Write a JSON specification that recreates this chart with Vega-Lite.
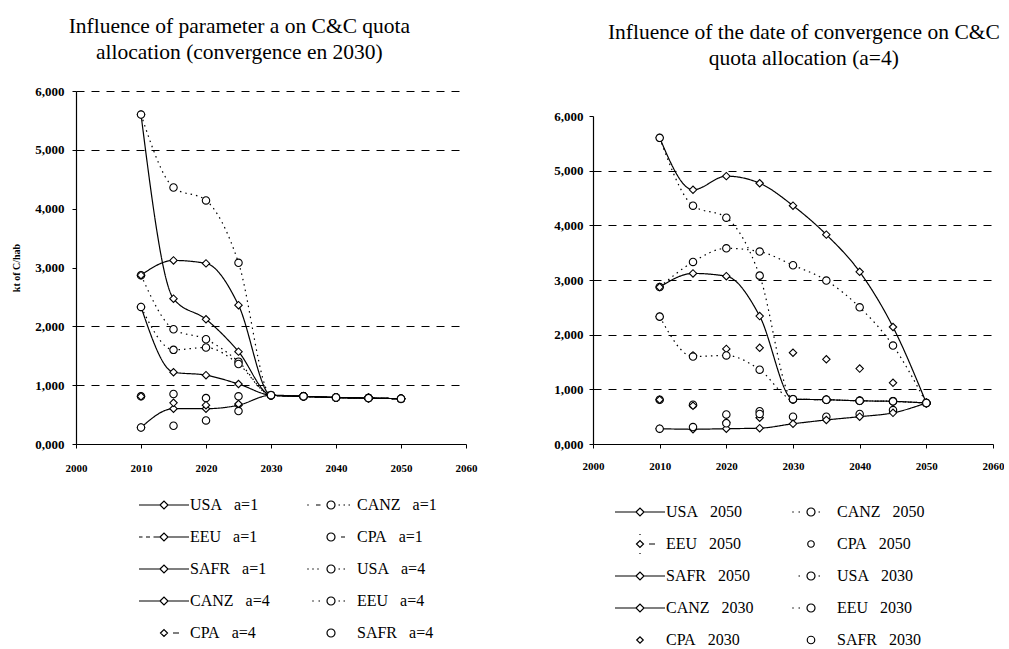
{
  "$schema": "https://vega.github.io/schema/vega-lite/v6.json",
  "background": "white",
  "padding": {"left": 11, "top": 15, "right": 0, "bottom": 0},
  "spacing": 76,
  "config": {
    "font": "Liberation Serif",
    "view": {"stroke": null},
    "axis": {
      "domainColor": "black", "domainWidth": 1.2, "tickColor": "black", "tickSize": 4, "tickWidth": 1,
      "labelColor": "black", "labelFont": "Liberation Serif", "labelFontWeight": "bold",
      "titleColor": "black", "titleFont": "Liberation Serif", "labelFlush": false, "labelOverlap": false,
      "gridColor": "black", "gridDash": [8, 7], "gridWidth": 1
    },
    "title": {"font": "Liberation Serif", "fontSize": 21.5, "fontWeight": "normal", "color": "black", "lineHeight": 26, "anchor": "middle", "frame": "bounds"},
    "legend": {
      "padding": 0, "labelFont": "Liberation Serif", "labelFontSize": 16, "labelColor": "black",
      "labelOffset": 0, "clipHeight": 20, "rowPadding": 12, "symbolSize": 2500, "direction": "horizontal",
      "symbolStrokeColor": "black", "symbolStrokeWidth": 1.2, "symbolOpacity": 1, "labelLimit": 300
    }
  },
  "resolve": {"scale": {"strokeDash": "independent", "shape": "independent"}, "legend": {"strokeDash": "independent", "shape": "independent"}},
  "hconcat": [
    {
      "title": {"text": ["Influence of parameter a on C&C quota", "allocation (convergence en 2030)"], "offset": 22, "dx": -5},
      "width": 390,
      "height": 353,
      "data": {"values": [
        {"series": "USA a=1", "year": 2010, "value": 5.6}, {"series": "USA a=1", "year": 2015, "value": 2.47}, {"series": "USA a=1", "year": 2020, "value": 2.12}, {"series": "USA a=1", "year": 2025, "value": 1.57}, {"series": "USA a=1", "year": 2030, "value": 0.83}, {"series": "USA a=1", "year": 2035, "value": 0.81}, {"series": "USA a=1", "year": 2040, "value": 0.79}, {"series": "USA a=1", "year": 2045, "value": 0.78}, {"series": "USA a=1", "year": 2050, "value": 0.77},
        {"series": "CANZ a=1", "year": 2010, "value": 2.87}, {"series": "CANZ a=1", "year": 2015, "value": 1.95}, {"series": "CANZ a=1", "year": 2020, "value": 1.78}, {"series": "CANZ a=1", "year": 2025, "value": 1.4}, {"series": "CANZ a=1", "year": 2030, "value": 0.83}, {"series": "CANZ a=1", "year": 2035, "value": 0.81}, {"series": "CANZ a=1", "year": 2040, "value": 0.79}, {"series": "CANZ a=1", "year": 2045, "value": 0.78}, {"series": "CANZ a=1", "year": 2050, "value": 0.77},
        {"series": "EEU a=1", "year": 2010, "value": 2.33}, {"series": "EEU a=1", "year": 2015, "value": 1.22}, {"series": "EEU a=1", "year": 2020, "value": 1.17}, {"series": "EEU a=1", "year": 2025, "value": 1.02}, {"series": "EEU a=1", "year": 2030, "value": 0.83}, {"series": "EEU a=1", "year": 2035, "value": 0.81}, {"series": "EEU a=1", "year": 2040, "value": 0.79}, {"series": "EEU a=1", "year": 2045, "value": 0.78}, {"series": "EEU a=1", "year": 2050, "value": 0.77},
        {"series": "CPA a=1", "year": 2010, "value": 0.81}, {"series": "CPA a=1", "year": 2015, "value": 0.85}, {"series": "CPA a=1", "year": 2020, "value": 0.78}, {"series": "CPA a=1", "year": 2025, "value": 0.81}, {"series": "CPA a=1", "year": 2030, "value": 0.83}, {"series": "CPA a=1", "year": 2035, "value": 0.81}, {"series": "CPA a=1", "year": 2040, "value": 0.79}, {"series": "CPA a=1", "year": 2045, "value": 0.78}, {"series": "CPA a=1", "year": 2050, "value": 0.77},
        {"series": "SAFR a=1", "year": 2010, "value": 0.28}, {"series": "SAFR a=1", "year": 2015, "value": 0.6}, {"series": "SAFR a=1", "year": 2020, "value": 0.6}, {"series": "SAFR a=1", "year": 2025, "value": 0.66}, {"series": "SAFR a=1", "year": 2030, "value": 0.83}, {"series": "SAFR a=1", "year": 2035, "value": 0.81}, {"series": "SAFR a=1", "year": 2040, "value": 0.79}, {"series": "SAFR a=1", "year": 2045, "value": 0.78}, {"series": "SAFR a=1", "year": 2050, "value": 0.77},
        {"series": "USA a=4", "year": 2010, "value": 5.6}, {"series": "USA a=4", "year": 2015, "value": 4.36}, {"series": "USA a=4", "year": 2020, "value": 4.14}, {"series": "USA a=4", "year": 2025, "value": 3.08}, {"series": "USA a=4", "year": 2030, "value": 0.83}, {"series": "USA a=4", "year": 2035, "value": 0.81}, {"series": "USA a=4", "year": 2040, "value": 0.79}, {"series": "USA a=4", "year": 2045, "value": 0.78}, {"series": "USA a=4", "year": 2050, "value": 0.77},
        {"series": "CANZ a=4", "year": 2010, "value": 2.87}, {"series": "CANZ a=4", "year": 2015, "value": 3.12}, {"series": "CANZ a=4", "year": 2020, "value": 3.07}, {"series": "CANZ a=4", "year": 2025, "value": 2.36}, {"series": "CANZ a=4", "year": 2030, "value": 0.83}, {"series": "CANZ a=4", "year": 2035, "value": 0.81}, {"series": "CANZ a=4", "year": 2040, "value": 0.79}, {"series": "CANZ a=4", "year": 2045, "value": 0.78}, {"series": "CANZ a=4", "year": 2050, "value": 0.77},
        {"series": "EEU a=4", "year": 2010, "value": 2.33}, {"series": "EEU a=4", "year": 2015, "value": 1.6}, {"series": "EEU a=4", "year": 2020, "value": 1.64}, {"series": "EEU a=4", "year": 2025, "value": 1.36}, {"series": "EEU a=4", "year": 2030, "value": 0.83}, {"series": "EEU a=4", "year": 2035, "value": 0.81}, {"series": "EEU a=4", "year": 2040, "value": 0.79}, {"series": "EEU a=4", "year": 2045, "value": 0.78}, {"series": "EEU a=4", "year": 2050, "value": 0.77},
        {"series": "CPA a=4", "year": 2010, "value": 0.81}, {"series": "CPA a=4", "year": 2015, "value": 0.7}, {"series": "CPA a=4", "year": 2020, "value": 0.66}, {"series": "CPA a=4", "year": 2025, "value": 0.68}, {"series": "CPA a=4", "year": 2030, "value": 0.83}, {"series": "CPA a=4", "year": 2035, "value": 0.81}, {"series": "CPA a=4", "year": 2040, "value": 0.79}, {"series": "CPA a=4", "year": 2045, "value": 0.78}, {"series": "CPA a=4", "year": 2050, "value": 0.77},
        {"series": "SAFR a=4", "year": 2010, "value": 0.28}, {"series": "SAFR a=4", "year": 2015, "value": 0.31}, {"series": "SAFR a=4", "year": 2020, "value": 0.4}, {"series": "SAFR a=4", "year": 2025, "value": 0.56}, {"series": "SAFR a=4", "year": 2030, "value": 0.83}, {"series": "SAFR a=4", "year": 2035, "value": 0.81}, {"series": "SAFR a=4", "year": 2040, "value": 0.79}, {"series": "SAFR a=4", "year": 2045, "value": 0.78}, {"series": "SAFR a=4", "year": 2050, "value": 0.77}
      ]},
      "encoding": {
        "x": {"field": "year", "type": "quantitative", "scale": {"domain": [2000, 2060], "nice": false, "zero": false},
              "axis": {"values": [2000, 2010, 2020, 2030, 2040, 2050, 2060], "format": "d", "title": null, "labelFontSize": 11, "labelPadding": 14, "grid": false}},
        "y": {"field": "value", "type": "quantitative", "scale": {"domain": [0, 6], "nice": false},
              "axis": {"values": [0, 1, 2, 3, 4, 5, 6], "labelExpr": "replace(format(datum.value, '.3f'), '.', ',')", "labelFontSize": 13, "labelPadding": 8,
                       "title": "kt of C/hab", "titleFontSize": 10, "titleFontWeight": "bold", "titlePadding": 13,
                       "grid": true, "gridOpacity": {"condition": {"test": "datum.value == 0 || datum.value == 3 || datum.value == 4", "value": 0}, "value": 1}}}
      },
      "resolve": {"scale": {"shape": "independent"}, "legend": {"shape": "independent"}},
      "layer": [
        {
          "transform": [{"filter": {"not": {"field": "series", "oneOf": ["CPA a=1", "CPA a=4", "SAFR a=4"]}}}],
          "mark": {"type": "line", "interpolate": "monotone", "color": "black", "strokeWidth": 1.2},
          "encoding": {
            "strokeDash": {"field": "series", "type": "nominal", "legend": null,
              "scale": {"domain": ["USA a=1", "CANZ a=1", "EEU a=1", "CPA a=1", "SAFR a=1", "USA a=4", "CANZ a=4", "EEU a=4", "CPA a=4", "SAFR a=4"],
                        "range": [[1, 0], [1.5, 4], [1, 0], [1, 0], [1, 0], [1.5, 4], [1, 0], [1.5, 4], [1, 0], [1, 0]]}}
          }
        },
        {
          "mark": {"type": "point", "filled": true, "fill": "white", "stroke": "black", "strokeWidth": 1.1, "size": 55, "opacity": 1},
          "encoding": {
            "shape": {"field": "series", "type": "nominal", "legend": null,
              "scale": {"domain": ["USA a=1", "CANZ a=1", "EEU a=1", "CPA a=1", "SAFR a=1", "USA a=4", "CANZ a=4", "EEU a=4", "CPA a=4", "SAFR a=4"],
                        "range": ["diamond", "circle", "diamond", "circle", "diamond", "circle", "diamond", "circle", "diamond", "circle"]}}
          }
        },
        {
          "transform": [{"filter": "false"}],
          "mark": {"type": "point", "filled": false, "color": "black", "strokeWidth": 1.2, "opacity": 1},
          "encoding": {
            "shape": {"field": "series", "type": "nominal",
              "scale": {"domain": ["USA a=1", "CANZ a=1", "EEU a=1", "CPA a=1", "SAFR a=1", "USA a=4", "CANZ a=4", "EEU a=4", "CPA a=4", "SAFR a=4"],
                        "range": [
                          "M-1,0H-0.16M0.16,0H1M-0.16,0L0,-0.16L0.16,0L0,0.16Z",
                          "M-0.95,0H-0.89M-0.6,0H-0.42M0.3,0H0.36M0.5,0H0.56M0.7,0H0.76M-0.16,0A0.16,0.16 0 1 0 0.16,0A0.16,0.16 0 1 0 -0.16,0Z",
                          "M-1,0H-0.86M-0.72,0H-0.56M-0.42,0H-0.16M0.16,0H1M-0.16,0L0,-0.16L0.16,0L0,0.16Z",
                          "M0.4,0H0.56M-0.16,0A0.16,0.16 0 1 0 0.16,0A0.16,0.16 0 1 0 -0.16,0Z",
                          "M-1,0H-0.16M0.16,0H1M-0.16,0L0,-0.16L0.16,0L0,0.16Z",
                          "M-0.95,0H-0.89M-0.75,0H-0.69M-0.55,0H-0.49M0.3,0H0.36M0.5,0H0.56M-0.16,0A0.16,0.16 0 1 0 0.16,0A0.16,0.16 0 1 0 -0.16,0Z",
                          "M-1,0H-0.16M0.16,0H1M-0.16,0L0,-0.16L0.16,0L0,0.16Z",
                          "M-0.75,0H-0.69M-0.5,0H-0.44M0.3,0H0.36M0.5,0H0.56M-0.16,0A0.16,0.16 0 1 0 0.16,0A0.16,0.16 0 1 0 -0.16,0Z",
                          "M0.36,0H0.6M-0.14,0L0,-0.14L0.14,0L0,0.14Z",
                          "M-0.16,0A0.16,0.16 0 1 0 0.16,0A0.16,0.16 0 1 0 -0.16,0Z"
                        ]},
              "legend": {
                "title": null, "orient": "none", "legendX": 62, "legendY": 404, "columns": 2, "columnPadding": 35,
                "symbolSize": 2500, "symbolStrokeColor": "black",
                "labelExpr": "replace(datum.label, ' ', '\u00a0\u00a0\u00a0')"
              }
            }
          }
        }
      ]
    },
    {
      "title": {"text": ["Influence of the date of convergence on C&C", "quota allocation (a=4)"], "offset": 22, "dx": 25},
      "width": 400,
      "height": 353,
      "data": {"values": [
        {"series": "USA 2050", "year": 2010, "value": 5.6}, {"series": "USA 2050", "year": 2015, "value": 4.65}, {"series": "USA 2050", "year": 2020, "value": 4.9}, {"series": "USA 2050", "year": 2025, "value": 4.77}, {"series": "USA 2050", "year": 2030, "value": 4.36}, {"series": "USA 2050", "year": 2035, "value": 3.83}, {"series": "USA 2050", "year": 2040, "value": 3.15}, {"series": "USA 2050", "year": 2045, "value": 2.14}, {"series": "USA 2050", "year": 2050, "value": 0.75},
        {"series": "CANZ 2050", "year": 2010, "value": 2.87}, {"series": "CANZ 2050", "year": 2015, "value": 3.33}, {"series": "CANZ 2050", "year": 2020, "value": 3.58}, {"series": "CANZ 2050", "year": 2025, "value": 3.52}, {"series": "CANZ 2050", "year": 2030, "value": 3.27}, {"series": "CANZ 2050", "year": 2035, "value": 2.99}, {"series": "CANZ 2050", "year": 2040, "value": 2.5}, {"series": "CANZ 2050", "year": 2045, "value": 1.8}, {"series": "CANZ 2050", "year": 2050, "value": 0.75},
        {"series": "EEU 2050", "year": 2010, "value": 2.33}, {"series": "EEU 2050", "year": 2015, "value": 1.62}, {"series": "EEU 2050", "year": 2020, "value": 1.74}, {"series": "EEU 2050", "year": 2025, "value": 1.76}, {"series": "EEU 2050", "year": 2030, "value": 1.67}, {"series": "EEU 2050", "year": 2035, "value": 1.55}, {"series": "EEU 2050", "year": 2040, "value": 1.38}, {"series": "EEU 2050", "year": 2045, "value": 1.12}, {"series": "EEU 2050", "year": 2050, "value": 0.75},
        {"series": "CPA 2050", "year": 2010, "value": 0.81}, {"series": "CPA 2050", "year": 2015, "value": 0.72}, {"series": "CPA 2050", "year": 2020, "value": 0.54}, {"series": "CPA 2050", "year": 2025, "value": 0.6}, {"series": "CPA 2050", "year": 2030, "value": 0.5}, {"series": "CPA 2050", "year": 2035, "value": 0.5}, {"series": "CPA 2050", "year": 2040, "value": 0.55}, {"series": "CPA 2050", "year": 2045, "value": 0.62}, {"series": "CPA 2050", "year": 2050, "value": 0.75},
        {"series": "SAFR 2050", "year": 2010, "value": 0.28}, {"series": "SAFR 2050", "year": 2015, "value": 0.27}, {"series": "SAFR 2050", "year": 2020, "value": 0.28}, {"series": "SAFR 2050", "year": 2025, "value": 0.29}, {"series": "SAFR 2050", "year": 2030, "value": 0.37}, {"series": "SAFR 2050", "year": 2035, "value": 0.44}, {"series": "SAFR 2050", "year": 2040, "value": 0.5}, {"series": "SAFR 2050", "year": 2045, "value": 0.57}, {"series": "SAFR 2050", "year": 2050, "value": 0.75},
        {"series": "USA 2030", "year": 2010, "value": 5.6}, {"series": "USA 2030", "year": 2015, "value": 4.36}, {"series": "USA 2030", "year": 2020, "value": 4.14}, {"series": "USA 2030", "year": 2025, "value": 3.08}, {"series": "USA 2030", "year": 2030, "value": 0.82}, {"series": "USA 2030", "year": 2035, "value": 0.81}, {"series": "USA 2030", "year": 2040, "value": 0.79}, {"series": "USA 2030", "year": 2045, "value": 0.78}, {"series": "USA 2030", "year": 2050, "value": 0.75},
        {"series": "CANZ 2030", "year": 2010, "value": 2.87}, {"series": "CANZ 2030", "year": 2015, "value": 3.12}, {"series": "CANZ 2030", "year": 2020, "value": 3.07}, {"series": "CANZ 2030", "year": 2025, "value": 2.34}, {"series": "CANZ 2030", "year": 2030, "value": 0.82}, {"series": "CANZ 2030", "year": 2035, "value": 0.81}, {"series": "CANZ 2030", "year": 2040, "value": 0.79}, {"series": "CANZ 2030", "year": 2045, "value": 0.78}, {"series": "CANZ 2030", "year": 2050, "value": 0.75},
        {"series": "EEU 2030", "year": 2010, "value": 2.33}, {"series": "EEU 2030", "year": 2015, "value": 1.6}, {"series": "EEU 2030", "year": 2020, "value": 1.62}, {"series": "EEU 2030", "year": 2025, "value": 1.36}, {"series": "EEU 2030", "year": 2030, "value": 0.82}, {"series": "EEU 2030", "year": 2035, "value": 0.81}, {"series": "EEU 2030", "year": 2040, "value": 0.79}, {"series": "EEU 2030", "year": 2045, "value": 0.78}, {"series": "EEU 2030", "year": 2050, "value": 0.75},
        {"series": "CPA 2030", "year": 2010, "value": 0.81}, {"series": "CPA 2030", "year": 2015, "value": 0.7}, {"series": "CPA 2030", "year": 2020, "value": 0.4}, {"series": "CPA 2030", "year": 2025, "value": 0.48}, {"series": "CPA 2030", "year": 2030, "value": 0.82}, {"series": "CPA 2030", "year": 2035, "value": 0.81}, {"series": "CPA 2030", "year": 2040, "value": 0.79}, {"series": "CPA 2030", "year": 2045, "value": 0.78}, {"series": "CPA 2030", "year": 2050, "value": 0.75},
        {"series": "SAFR 2030", "year": 2010, "value": 0.28}, {"series": "SAFR 2030", "year": 2015, "value": 0.31}, {"series": "SAFR 2030", "year": 2020, "value": 0.38}, {"series": "SAFR 2030", "year": 2025, "value": 0.55}, {"series": "SAFR 2030", "year": 2030, "value": 0.82}, {"series": "SAFR 2030", "year": 2035, "value": 0.81}, {"series": "SAFR 2030", "year": 2040, "value": 0.79}, {"series": "SAFR 2030", "year": 2045, "value": 0.78}, {"series": "SAFR 2030", "year": 2050, "value": 0.75}
      ]},
      "encoding": {
        "x": {"field": "year", "type": "quantitative", "scale": {"domain": [2000, 2060], "nice": false, "zero": false},
              "axis": {"values": [2000, 2010, 2020, 2030, 2040, 2050, 2060], "format": "d", "title": null, "labelFontSize": 11, "labelPadding": 12, "grid": false}},
        "y": {"field": "value", "type": "quantitative", "scale": {"domain": [0, 6], "nice": false, "range": [353, 25]},
              "axis": {"values": [0, 1, 2, 3, 4, 5, 6], "labelExpr": "replace(format(datum.value, '.3f'), '.', ',')", "labelFontSize": 13, "labelPadding": 6,
                       "title": null,
                       "grid": true, "gridOpacity": {"condition": {"test": "datum.value == 0 || datum.value == 6", "value": 0}, "value": 1}}}
      },
      "resolve": {"scale": {"shape": "independent"}, "legend": {"shape": "independent"}},
      "layer": [
        {
          "transform": [{"filter": {"not": {"field": "series", "oneOf": ["EEU 2050", "CPA 2050", "CPA 2030", "SAFR 2030"]}}}],
          "mark": {"type": "line", "interpolate": "monotone", "color": "black", "strokeWidth": 1.2},
          "encoding": {
            "strokeDash": {"field": "series", "type": "nominal", "legend": null,
              "scale": {"domain": ["USA 2050", "CANZ 2050", "EEU 2050", "CPA 2050", "SAFR 2050", "USA 2030", "CANZ 2030", "EEU 2030", "CPA 2030", "SAFR 2030"],
                        "range": [[1, 0], [1.5, 4], [1, 0], [1, 0], [1, 0], [1.5, 4], [1, 0], [1.5, 4], [1, 0], [1, 0]]}}
          }
        },
        {
          "mark": {"type": "point", "filled": true, "fill": "white", "stroke": "black", "strokeWidth": 1.1, "size": 55, "opacity": 1},
          "encoding": {
            "shape": {"field": "series", "type": "nominal", "legend": null,
              "scale": {"domain": ["USA 2050", "CANZ 2050", "EEU 2050", "CPA 2050", "SAFR 2050", "USA 2030", "CANZ 2030", "EEU 2030", "CPA 2030", "SAFR 2030"],
                        "range": ["diamond", "circle", "diamond", "circle", "diamond", "circle", "diamond", "circle", "diamond", "circle"]}}
          }
        },
        {
          "transform": [{"filter": "false"}],
          "mark": {"type": "point", "filled": false, "color": "black", "strokeWidth": 1.2, "opacity": 1},
          "encoding": {
            "shape": {"field": "series", "type": "nominal",
              "scale": {"domain": ["USA 2050", "CANZ 2050", "EEU 2050", "CPA 2050", "SAFR 2050", "USA 2030", "CANZ 2030", "EEU 2030", "CPA 2030", "SAFR 2030"],
                        "range": [
                          "M-1,0H-0.16M0.16,0H1M-0.16,0L0,-0.16L0.16,0L0,0.16Z",
                          "M-0.75,0H-0.69M-0.5,0H-0.44M0.3,0H0.36M-0.16,0A0.16,0.16 0 1 0 0.16,0A0.16,0.16 0 1 0 -0.16,0Z",
                          "M0.36,0H0.6M0,-0.5V-0.36M0,0.36V0.5M-0.14,0L0,-0.14L0.14,0L0,0.14Z",
                          "M-0.13,0A0.13,0.13 0 1 0 0.13,0A0.13,0.13 0 1 0 -0.13,0Z",
                          "M-1,0H-0.16M0.16,0H1M-0.16,0L0,-0.16L0.16,0L0,0.16Z",
                          "M-0.5,0H-0.44M0.3,0H0.36M-0.16,0A0.16,0.16 0 1 0 0.16,0A0.16,0.16 0 1 0 -0.16,0Z",
                          "M-1,0H-0.16M0.16,0H1M-0.16,0L0,-0.16L0.16,0L0,0.16Z",
                          "M-0.75,0H-0.69M-0.5,0H-0.44M-0.16,0A0.16,0.16 0 1 0 0.16,0A0.16,0.16 0 1 0 -0.16,0Z",
                          "M-0.13,0L0,-0.13L0.13,0L0,0.13Z",
                          "M-0.15,0A0.15,0.15 0 1 0 0.15,0A0.15,0.15 0 1 0 -0.15,0Z"
                        ]},
              "legend": {
                "title": null, "orient": "none", "legendX": 21, "legendY": 411, "columns": 2, "columnPadding": 31,
                "symbolSize": 2500, "symbolStrokeColor": "black",
                "labelExpr": "replace(datum.label, ' ', '\u00a0\u00a0\u00a0')"
              }
            }
          }
        }
      ]
    }
  ]
}
